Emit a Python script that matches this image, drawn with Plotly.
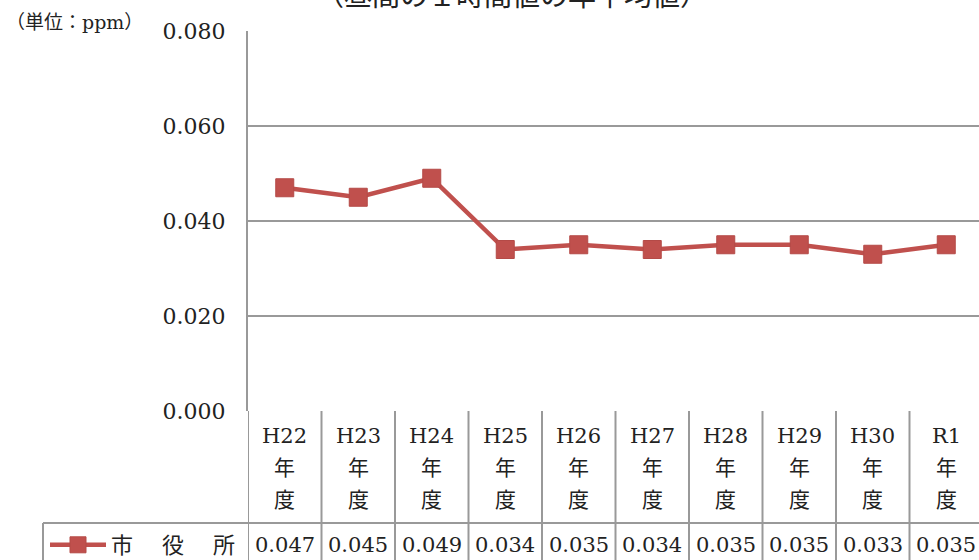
import plotly.graph_objects as go

categories = ["H22", "H23", "H24", "H25", "H26", "H27", "H28", "H29", "H30", "R1"]
category_suffix = ["年", "度"]
values = [0.047, 0.045, 0.049, 0.034, 0.035, 0.034, 0.035, 0.035, 0.033, 0.035]
value_labels = ["0.047", "0.045", "0.049", "0.034", "0.035", "0.034", "0.035", "0.035", "0.033", "0.035"]
series_name = "市　 役　 所"
y_ticks = [0.0, 0.02, 0.04, 0.06, 0.08]
y_tick_labels = ["0.000", "0.020", "0.040", "0.060", "0.080"]
title_text = "（昼間の１時間値の年平均値）"
unit_text = "（単位：ppm）"

RED = "#c0504d"
GRID = "#999999"
FONT = "DejaVu Serif, Noto Sans CJK JP"

W, H = 979, 560
L, T, B = 248, 31, 149
plot_h = H - T - B  # 380
plot_w = W - L      # 731
cell = 73.5

def py(pix):
    return (H - B - pix) / plot_h

def px(pix):
    return (pix - L) / plot_w

x_idx = list(range(len(categories)))

fig = go.Figure()
fig.add_trace(go.Scatter(
    x=x_idx, y=values, mode="lines+markers", name=series_name,
    line=dict(color=RED, width=4.5),
    marker=dict(symbol="square", size=18, color=RED, line=dict(color="#b44a47", width=1)),
    showlegend=True,
))

shapes = []
for i in range(len(categories) + 1):
    shapes.append(dict(type="line", xref="x", yref="paper", x0=i - 0.5, x1=i - 0.5,
                       y0=0, y1=py(565), line=dict(color=GRID, width=2)))
shapes.append(dict(type="line", xref="paper", yref="paper", x0=px(43), x1=1,
                   y0=py(523), y1=py(523), line=dict(color=GRID, width=2)))
shapes.append(dict(type="line", xref="paper", yref="paper", x0=px(43), x1=px(43),
                   y0=py(523), y1=py(565), line=dict(color=GRID, width=2)))

annotations = []
for i, c in enumerate(categories):
    lines = [c] + category_suffix
    for j, t in enumerate(lines):
        annotations.append(dict(x=i, y=py(436 + 32 * j), xref="x", yref="paper", text=t,
                                showarrow=False, xanchor="center", yanchor="middle",
                                font=dict(family=FONT, size=21, color="#222222")))
    annotations.append(dict(x=i, y=py(545), xref="x", yref="paper", text=value_labels[i],
                            showarrow=False, xanchor="center", yanchor="middle",
                            font=dict(family=FONT, size=21, color="#222222")))

annotations.append(dict(x=px(512), y=py(-3), xref="paper", yref="paper", text=title_text,
                        showarrow=False, xanchor="center", yanchor="middle",
                        font=dict(family=FONT, size=28, color="#222222")))
annotations.append(dict(x=px(4), y=py(22), xref="paper", yref="paper", text=unit_text,
                        showarrow=False, xanchor="left", yanchor="middle",
                        font=dict(family=FONT, size=19, color="#222222")))

fig.update_layout(
    width=W, height=H,
    margin=dict(l=L, r=0, t=T, b=B, pad=0, autoexpand=False),
    paper_bgcolor="white", plot_bgcolor="white",
    shapes=shapes, annotations=annotations,
    showlegend=True,
    legend=dict(x=px(45), y=py(545), xanchor="left", yanchor="middle",
                font=dict(family=FONT, size=22, color="#222222"),
                bgcolor="rgba(0,0,0,0)", itemwidth=56, borderwidth=0),
    xaxis=dict(range=[-0.5, -0.5 + plot_w / cell], showticklabels=False, showgrid=False,
               zeroline=False, showline=False, ticks="", automargin=False),
    yaxis=dict(range=[0, 0.08], tickvals=y_ticks, ticktext=y_tick_labels,
               showgrid=True, gridcolor=GRID, gridwidth=2, zeroline=False,
               showline=True, linecolor=GRID, linewidth=2, ticks="",
               ticklabelstandoff=16, automargin=False,
               tickfont=dict(family=FONT, size=22, color="#222222")),
)

fig.write_html("out.html", config={"displayModeBar": False},
               post_script="document.body.style.margin='0';document.body.style.overflow='hidden';")
